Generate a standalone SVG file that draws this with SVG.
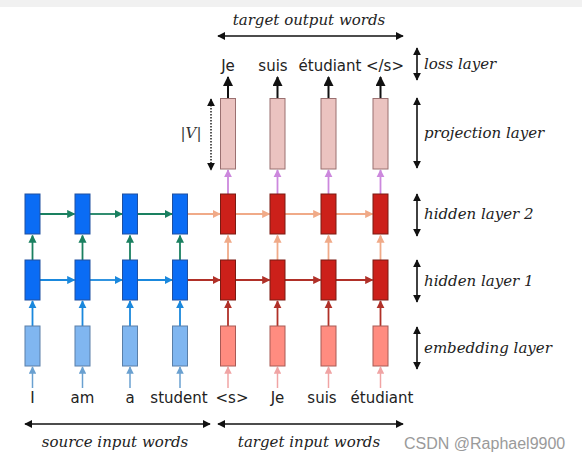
<svg xmlns="http://www.w3.org/2000/svg" width="582" height="463" viewBox="0 0 582 463">
<style>
.w{font-family:"DejaVu Sans",sans-serif;font-size:15px;fill:#222;text-anchor:middle}
.it{font-family:"DejaVu Serif",serif;font-style:italic;font-size:15px;fill:#222}
.mid{text-anchor:middle}
.hb{fill:#0a6cf5;stroke:#2050a0;stroke-width:1}
.eb{fill:#80b6f0;stroke:#5a7fa8;stroke-width:1}
.hr{fill:#cc201a;stroke:#7a1a12;stroke-width:1}
.er{fill:#ff8c80;stroke:#a85a55;stroke-width:1}
.pr{fill:#ebc3c0;stroke:#9a7070;stroke-width:1}
.k{stroke:#111;stroke-width:1.6;fill:none}
.g{stroke:#1a8060;stroke-width:1.8;marker-end:url(#mg)}
.b{stroke:#1a88dd;stroke-width:1.8;marker-end:url(#mb)}
.lb{stroke:#6aa0d0;stroke-width:1.5;marker-end:url(#mlb)}
.pe{stroke:#f0aa88;stroke-width:1.8;marker-end:url(#mpe)}
.dr{stroke:#b03028;stroke-width:1.8;marker-end:url(#mdr)}
.pk{stroke:#f0a4a4;stroke-width:1.5;marker-end:url(#mpk)}
.lv{stroke:#cc88dd;stroke-width:1.8;marker-end:url(#mlv)}
.bk{stroke:#111;stroke-width:2;marker-end:url(#mk)}
</style>
<defs>
<marker id="mk" viewBox="0 0 10 10" refX="9" refY="5" markerWidth="5" markerHeight="5" orient="auto-start-reverse" markerUnits="strokeWidth"><path d="M0,0L10,5L0,10Z" fill="#111"/></marker>
<marker id="mk2" viewBox="0 0 10 10" refX="9" refY="5" markerWidth="8" markerHeight="8" orient="auto-start-reverse" markerUnits="userSpaceOnUse"><path d="M0,0L10,5L0,10Z" fill="#111"/></marker>
<marker id="mg" viewBox="0 0 10 10" refX="9" refY="5" markerWidth="4.5" markerHeight="4.5" orient="auto"><path d="M0,0L10,5L0,10Z" fill="#1a8060"/></marker>
<marker id="mb" viewBox="0 0 10 10" refX="9" refY="5" markerWidth="4.5" markerHeight="4.5" orient="auto"><path d="M0,0L10,5L0,10Z" fill="#1a88dd"/></marker>
<marker id="mlb" viewBox="0 0 10 10" refX="9" refY="5" markerWidth="5" markerHeight="5" orient="auto"><path d="M0,0L10,5L0,10Z" fill="#6aa0d0"/></marker>
<marker id="mpe" viewBox="0 0 10 10" refX="9" refY="5" markerWidth="4.5" markerHeight="4.5" orient="auto"><path d="M0,0L10,5L0,10Z" fill="#f0aa88"/></marker>
<marker id="mdr" viewBox="0 0 10 10" refX="9" refY="5" markerWidth="4.5" markerHeight="4.5" orient="auto"><path d="M0,0L10,5L0,10Z" fill="#b03028"/></marker>
<marker id="mpk" viewBox="0 0 10 10" refX="9" refY="5" markerWidth="5" markerHeight="5" orient="auto"><path d="M0,0L10,5L0,10Z" fill="#f0a4a4"/></marker>
<marker id="mlv" viewBox="0 0 10 10" refX="9" refY="5" markerWidth="4.5" markerHeight="4.5" orient="auto"><path d="M0,0L10,5L0,10Z" fill="#cc88dd"/></marker>
</defs>
<rect x="0" y="0" width="582" height="463" fill="#fff"/>
<rect x="0" y="0" width="582" height="7" fill="#f1f1f1"/>

<g id="connectors">
<!-- input -> embedding -->
<line class="lb" x1="32.5" y1="388" x2="32.5" y2="367"/>
<line class="lb" x1="82.5" y1="388" x2="82.5" y2="367"/>
<line class="lb" x1="130" y1="388" x2="130" y2="367"/>
<line class="lb" x1="180" y1="388" x2="180" y2="367"/>
<line class="pk" x1="228" y1="388" x2="228" y2="367"/>
<line class="pk" x1="277.5" y1="388" x2="277.5" y2="367"/>
<line class="pk" x1="328.5" y1="388" x2="328.5" y2="367"/>
<line class="pk" x1="380.5" y1="388" x2="380.5" y2="367"/>
<!-- embedding -> hidden1 -->
<line class="b" x1="32.5" y1="326" x2="32.5" y2="301"/>
<line class="b" x1="82.5" y1="326" x2="82.5" y2="301"/>
<line class="b" x1="130" y1="326" x2="130" y2="301"/>
<line class="b" x1="180" y1="326" x2="180" y2="301"/>
<line class="dr" x1="228" y1="326" x2="228" y2="301"/>
<line class="dr" x1="277.5" y1="326" x2="277.5" y2="301"/>
<line class="dr" x1="328.5" y1="326" x2="328.5" y2="301"/>
<line class="dr" x1="380.5" y1="326" x2="380.5" y2="301"/>
<!-- hidden1 -> hidden2 -->
<line class="g" x1="32.5" y1="260" x2="32.5" y2="235.5"/>
<line class="g" x1="82.5" y1="260" x2="82.5" y2="235.5"/>
<line class="g" x1="130" y1="260" x2="130" y2="235.5"/>
<line class="g" x1="180" y1="260" x2="180" y2="235.5"/>
<line class="pe" x1="228" y1="260" x2="228" y2="235.5"/>
<line class="pe" x1="277.5" y1="260" x2="277.5" y2="235.5"/>
<line class="pe" x1="328.5" y1="260" x2="328.5" y2="235.5"/>
<line class="pe" x1="380.5" y1="260" x2="380.5" y2="235.5"/>
<!-- hidden2 -> projection -->
<line class="lv" x1="228" y1="194" x2="228" y2="170"/>
<line class="lv" x1="277.5" y1="194" x2="277.5" y2="170"/>
<line class="lv" x1="328.5" y1="194" x2="328.5" y2="170"/>
<line class="lv" x1="380.5" y1="194" x2="380.5" y2="170"/>
<!-- projection -> output words -->
<line class="bk" x1="228" y1="98" x2="228" y2="77"/>
<line class="bk" x1="277.5" y1="98" x2="277.5" y2="77"/>
<line class="bk" x1="328.5" y1="98" x2="328.5" y2="77"/>
<line class="bk" x1="380.5" y1="98" x2="380.5" y2="77"/>
<!-- horizontal layer 1 -->
<line class="b" x1="40" y1="280" x2="74.5" y2="280"/>
<line class="b" x1="90" y1="280" x2="122" y2="280"/>
<line class="b" x1="137.5" y1="280" x2="172" y2="280"/>
<line class="dr" x1="187.5" y1="280" x2="220" y2="280"/>
<line class="dr" x1="235.5" y1="280" x2="269.5" y2="280"/>
<line class="dr" x1="285" y1="280" x2="320.5" y2="280"/>
<line class="dr" x1="336" y1="280" x2="372.5" y2="280"/>
<!-- horizontal layer 2 -->
<line class="g" x1="40" y1="214" x2="74.5" y2="214"/>
<line class="g" x1="90" y1="214" x2="122" y2="214"/>
<line class="g" x1="137.5" y1="214" x2="172" y2="214"/>
<line class="pe" x1="187.5" y1="214" x2="220" y2="214"/>
<line class="pe" x1="235.5" y1="214" x2="269.5" y2="214"/>
<line class="pe" x1="285" y1="214" x2="320.5" y2="214"/>
<line class="pe" x1="336" y1="214" x2="372.5" y2="214"/>
<!-- span arrows -->
<line class="k" x1="218" y1="36" x2="403" y2="36" marker-start="url(#mk2)" marker-end="url(#mk2)"/>
<line class="k" x1="25" y1="424" x2="210" y2="424" marker-start="url(#mk2)" marker-end="url(#mk2)"/>
<line class="k" x1="218" y1="424" x2="403" y2="424" marker-start="url(#mk2)" marker-end="url(#mk2)"/>
<line class="k" x1="417" y1="48" x2="417" y2="80" marker-start="url(#mk2)" marker-end="url(#mk2)"/>
<line class="k" x1="417" y1="98" x2="417" y2="168" marker-start="url(#mk2)" marker-end="url(#mk2)"/>
<line class="k" x1="417" y1="194" x2="417" y2="236" marker-start="url(#mk2)" marker-end="url(#mk2)"/>
<line class="k" x1="417" y1="260" x2="417" y2="302" marker-start="url(#mk2)" marker-end="url(#mk2)"/>
<line class="k" x1="417" y1="327" x2="417" y2="369" marker-start="url(#mk2)" marker-end="url(#mk2)"/>
<line x1="211" y1="99" x2="211" y2="170" stroke="#111" stroke-width="1.4" stroke-dasharray="1.5 1.5" marker-start="url(#mk2)" marker-end="url(#mk2)"/>
</g>

<g id="embedding-layer">
<rect class="eb" x="25" y="326" width="15" height="40"/>
<rect class="eb" x="75" y="326" width="15" height="40"/>
<rect class="eb" x="122.5" y="326" width="15" height="40"/>
<rect class="eb" x="172.5" y="326" width="15" height="40"/>
<rect class="er" x="220.5" y="326" width="15" height="40"/>
<rect class="er" x="270" y="326" width="15" height="40"/>
<rect class="er" x="321" y="326" width="15" height="40"/>
<rect class="er" x="373" y="326" width="15" height="40"/>
</g>
<g id="hidden-layer-1">
<rect class="hb" x="25" y="260" width="15" height="40"/>
<rect class="hb" x="75" y="260" width="15" height="40"/>
<rect class="hb" x="122.5" y="260" width="15" height="40"/>
<rect class="hb" x="172.5" y="260" width="15" height="40"/>
<rect class="hr" x="220.5" y="260" width="15" height="40"/>
<rect class="hr" x="270" y="260" width="15" height="40"/>
<rect class="hr" x="321" y="260" width="15" height="40"/>
<rect class="hr" x="373" y="260" width="15" height="40"/>
</g>
<g id="hidden-layer-2">
<rect class="hb" x="25" y="194" width="15" height="40"/>
<rect class="hb" x="75" y="194" width="15" height="40"/>
<rect class="hb" x="122.5" y="194" width="15" height="40"/>
<rect class="hb" x="172.5" y="194" width="15" height="40"/>
<rect class="hr" x="220.5" y="194" width="15" height="40"/>
<rect class="hr" x="270" y="194" width="15" height="40"/>
<rect class="hr" x="321" y="194" width="15" height="40"/>
<rect class="hr" x="373" y="194" width="15" height="40"/>
</g>
<g id="projection-layer">
<rect class="pr" x="220.5" y="98.5" width="15" height="70.5"/>
<rect class="pr" x="270" y="98.5" width="15" height="70.5"/>
<rect class="pr" x="321" y="98.5" width="15" height="70.5"/>
<rect class="pr" x="373" y="98.5" width="15" height="70.5"/>
</g>

<g id="input-words">
<text class="w" x="32.5" y="403">I</text>
<text class="w" x="82.5" y="403">am</text>
<text class="w" x="130" y="403">a</text>
<text class="w" x="179" y="403">student</text>
<text class="w" x="232" y="403">&lt;s&gt;</text>
<text class="w" x="277.5" y="403">Je</text>
<text class="w" x="322" y="403">suis</text>
<text class="w" x="382" y="403">étudiant</text>
</g>
<g id="output-words">
<text class="w" x="228" y="71">Je</text>
<text class="w" x="273" y="71">suis</text>
<text class="w" x="330" y="71">étudiant</text>
<text class="w" x="385" y="71">&lt;/s&gt;</text>
</g>
<g id="labels">
<text class="it mid" x="309" y="25">target output words</text>
<text class="it mid" x="115" y="447">source input words</text>
<text class="it mid" x="309" y="447">target input words</text>
<text class="it" x="424" y="69">loss layer</text>
<text class="it" x="424" y="138">projection layer</text>
<text class="it" x="424" y="219">hidden layer 2</text>
<text class="it" x="424" y="286">hidden layer 1</text>
<text class="it" x="424" y="353">embedding layer</text>
<text x="191" y="138" font-family="DejaVu Serif,serif" font-style="italic" font-size="15" fill="#333" text-anchor="middle">|V|</text>
</g>
<text x="404" y="449" font-family="Liberation Sans,Arial,sans-serif" font-size="16" fill="#9a9a9a">CSDN @Raphael9900</text>
</svg>
